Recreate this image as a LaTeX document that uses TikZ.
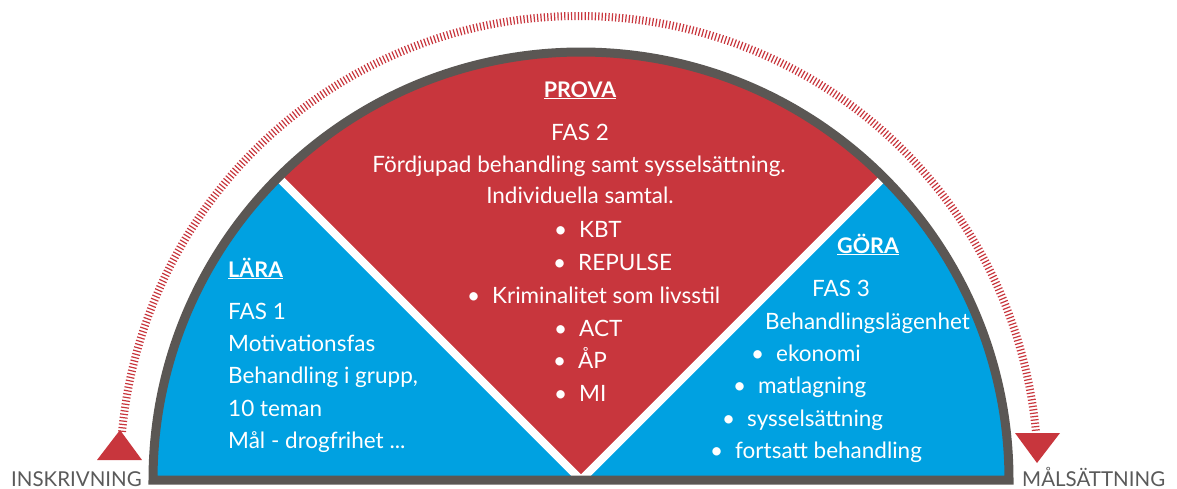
\documentclass[tikz,border=0pt]{standalone}
\usepackage{fontspec}
\setmainfont{Lato}
\definecolor{fasred}{HTML}{C8363D}
\definecolor{fasblue}{HTML}{00A1E1}
\definecolor{rimgray}{HTML}{5B5754}
\definecolor{lblgray}{HTML}{5A5A5A}
\newcommand{\blt}{\llap{\textbullet\hspace{12pt}}}
\tikzset{
  txt/.style={text=white, inner sep=0pt, anchor=base west,
    font=\fontsize{22.5}{26}\selectfont},
  ctxt/.style={txt, anchor=base},
  ttl/.style={txt, font=\fontsize{21.5}{26}\selectfont\bfseries},
  endlbl/.style={inner sep=0pt, anchor=base west, text=lblgray,
    font=\fontsize{20.5}{24}\selectfont}
}
\begin{document}
\begin{tikzpicture}[x=1pt,y=-1pt]
    \useasboundingbox (0,0) rectangle (1177,488);

    \def\cx{581}   % centre of half disc
    \def\cy{480}
    \def\rr{428}   % radius of half disc
    \def\dx{579}   % centre of dotted arc
    \def\dy{475}
    \def\dr{459}

    % blue half disc
    \fill[fasblue] (\cx-\rr,\cy) arc[start angle=180,end angle=360,radius=\rr] -- cycle;

    % red wedge
    \fill[fasred] (\cx,\cy) -- ++(225:\rr)
        arc[start angle=225,end angle=315,radius=\rr] -- cycle;
    \draw[white, line width=8pt] (\cx,\cy) -- ++(225:\rr);
    \draw[white, line width=8pt] (\cx,\cy) -- ++(315:\rr);

    % rim
    \draw[rimgray, line width=9pt] (\cx-\rr,\cy)
        arc[start angle=180,end angle=360,radius=\rr] -- cycle;

    % dotted arc with triangles
    \draw[fasred, line width=8pt, dash pattern=on 1.2pt off 2.2pt]
        (\dx,\dy) ++(185.4:\dr) arc[start angle=185.4,end angle=354.6,radius=\dr];
    \fill[fasred] (97,460) -- (142,460) -- (120,430) -- cycle;
    \fill[fasred] (1015,433) -- (1060,433) -- (1037,463) -- cycle;

    \node[endlbl] (start) at (11,486) {INSKRIVNING};
    \node[endlbl] (goal) at (1022,486) {MÅLSÄTTNING};

    % fas 2
    \node[ttl, anchor=base] (prova) at (580,97) {\underline{PROVA}};
    \node[ctxt] (fas2) at (580,140) {FAS 2};
    \node[ctxt] (f2a) at (579,172) {Fördjupad behandling samt sysselsättning.};
    \node[ctxt] (f2b) at (580,203) {Individuella samtal.};
    \node[txt] (f2c) at (579,237) {\blt KBT};
    \node[txt] (f2d) at (578,270) {\blt REPULSE};
    \node[txt] (f2e) at (492,303) {\blt Kriminalitet som livsstil};
    \node[txt] (f2f) at (579,336) {\blt ACT};
    \node[txt] (f2g) at (578,368) {\blt ÅP};
    \node[txt] (f2h) at (579,401) {\blt MI};

    % fas 1
    \node[ttl] (lara) at (228,277) {\underline{LÄRA}};
    \node[txt] (fas1) at (228,319) {FAS 1};
    \node[txt] (f1a) at (228,351) {Motivationsfas};
    \node[txt] (f1b) at (228,383) {Behandling i grupp,};
    \node[txt] (f1c) at (228,416) {10 teman};
    \node[txt] (f1d) at (228,448) {Mål - drogfrihet ...};

    % fas 3
    \node[ttl] (gora) at (837,253) {\underline{GÖRA}};
    \node[txt] (fas3) at (812,296) {FAS 3};
    \node[txt] (f3a) at (765,329) {Behandlingslägenhet};
    \node[txt] (f3b) at (776,361) {\blt ekonomi};
    \node[txt] (f3c) at (758,393) {\blt matlagning};
    \node[txt] (f3d) at (747,426) {\blt sysselsättning};
    \node[txt] (f3e) at (735,458) {\blt fortsatt behandling};
\end{tikzpicture}
\end{document}
